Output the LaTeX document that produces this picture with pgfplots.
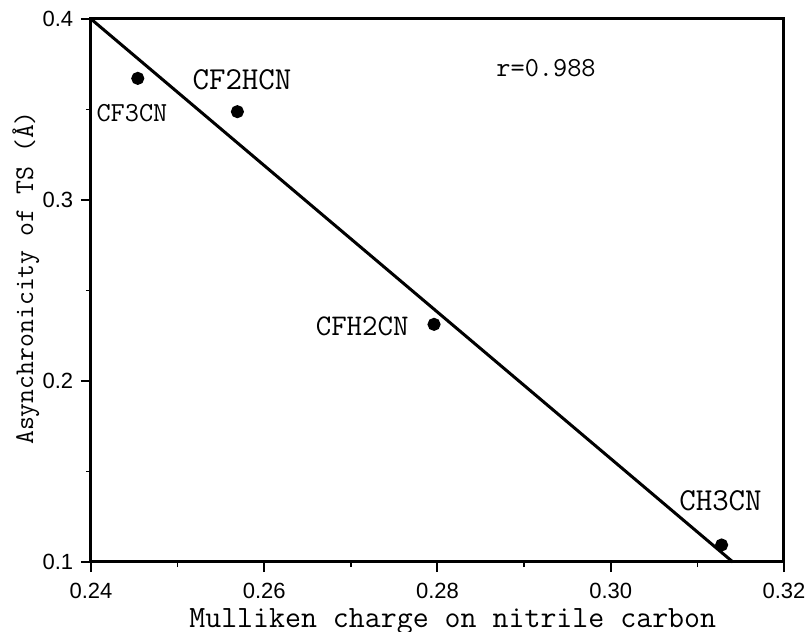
\documentclass[border=0pt]{standalone}
\usepackage{fontspec}
\usepackage{pgfplots}
\pgfplotsset{compat=1.18}
\setmainfont{Latin Modern Mono}
\newfontfamily\tickfont{Liberation Sans}
\begin{document}
\begin{tikzpicture}
\useasboundingbox (-91pt,-70pt) rectangle (718pt,562pt);
\begin{axis}[name=ax, at={(0,0)}, anchor=south west,
  scale only axis, width=693pt, height=543pt,
  xmin=0.24, xmax=0.32, ymin=0.1, ymax=0.4,
  xtick={0.24,0.26,0.28,0.30,0.32},
  ytick={0.1,0.2,0.3,0.4},
  minor x tick num=1, minor y tick num=1,
  xtick pos=bottom, ytick pos=left,
  every axis/.append style={line width=3pt},
  major tick style={black, line width=2pt},
  minor tick style={black, line width=1.6pt},
  major tick length=10pt, minor tick length=5pt,
  tick align=outside,
  /pgf/number format/assume math mode=true,
  ticklabel style={font=\tickfont\fontsize{22}{26}\selectfont},
  xticklabel style={yshift=-6pt, /pgf/number format/.cd, fixed, fixed zerofill, precision=2},
  yticklabel style={xshift=-3pt, /pgf/number format/.cd, fixed, fixed zerofill, precision=1},
  scaled ticks=false,
  xlabel={Mulliken charge on nitrile carbon},
  ylabel={Asynchronicity of TS (Å)},
  xlabel style={font=\fontsize{31}{36}\selectfont, at={(rel axis cs:0.522,-0.110)}, anchor=center},
  ylabel style={font=\fontsize{27}{30}\selectfont, at={(rel axis cs:-0.094,0.523)}, anchor=center, rotate=0},
  clip=false,
]
\addplot[no marks, black, line width=3pt] coordinates {(0.24,0.4) (0.3141,0.1)};
\addplot[only marks, mark=*, mark size=5pt, black] coordinates {
  (0.2454,0.3672) (0.2569,0.3488) (0.2796,0.2313) (0.3128,0.1094)};
\node[font=\fontsize{27.5}{30}\selectfont] at (axis cs:0.24473,0.348) {CF3CN};
\node[font=\fontsize{32}{36}\selectfont] at (axis cs:0.25743,0.3666) {CF2HCN};
\node[font=\fontsize{30}{34}\selectfont, anchor=east, inner sep=0pt] at (axis cs:0.27683,0.2304) {CFH2CN};
\node[font=\fontsize{32}{36}\selectfont] at (axis cs:0.31267,0.1340) {CH3CN};
\node[font=\fontsize{27.5}{30}\selectfont] at (axis cs:0.29253,0.3727) {r=0.988};
\end{axis}
\end{tikzpicture}
\end{document}
